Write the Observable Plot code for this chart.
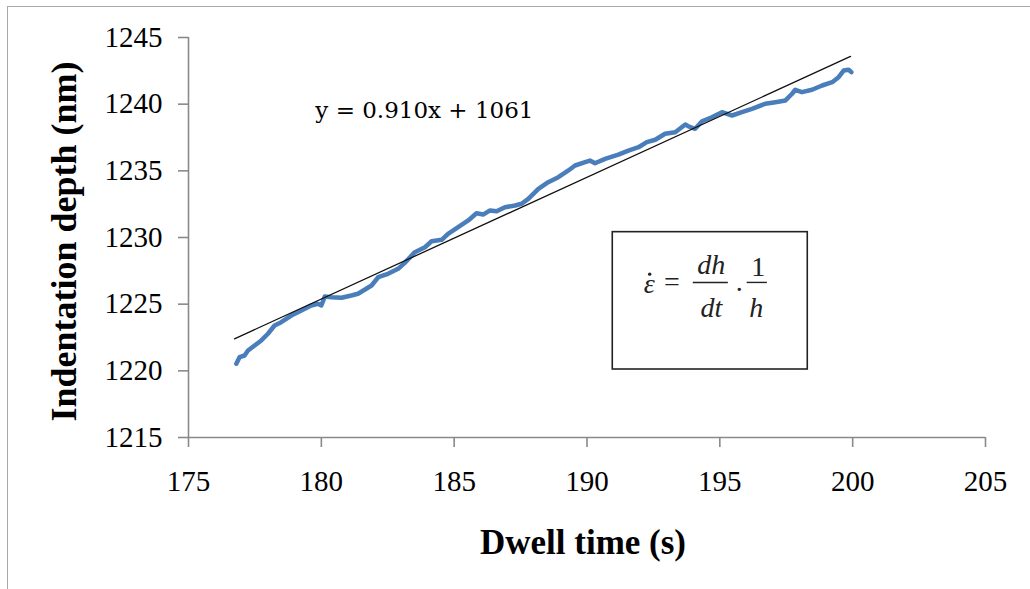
<!DOCTYPE html>
<html>
<head>
<meta charset="utf-8">
<script src="https://cdn.jsdelivr.net/npm/d3@7"></script>
<script src="https://cdn.jsdelivr.net/npm/@observablehq/plot@0.6"></script>
<style>
  html, body { margin: 0; padding: 0; background: #fff; overflow: hidden; }
  #wrap { position: relative; width: 1030px; height: 589px; }
  #border { position: absolute; left: 7px; top: 6px; width: 1100px; height: 700px; border: 1.5px solid #a8a8a8; box-sizing: border-box; pointer-events: none; }
  #chart { position: absolute; left: 0; top: 0; }
</style>
</head>
<body>
<div id="wrap"><div id="border"></div><div id="chart"></div></div>
<script>
// Dwell-time series (s) and indentation depth (nm)
const time = [176.80,176.92,177.11,177.24,177.49,177.74,177.99,178.24,178.49,178.87,179.25,179.62,179.87,180.00,180.13,180.38,180.76,181.13,181.38,181.63,181.89,182.14,182.51,182.89,183.14,183.52,183.90,184.15,184.53,184.77,185.15,185.53,185.84,186.09,186.35,186.60,186.91,187.29,187.54,187.79,188.17,188.54,188.92,189.30,189.55,189.93,190.11,190.30,190.68,191.18,191.56,191.94,192.25,192.57,192.94,193.32,193.70,193.82,194.07,194.33,194.70,195.08,195.46,195.83,196.21,196.71,197.09,197.47,197.72,197.84,198.09,198.47,198.85,199.23,199.47,199.66,199.85,199.95];
const depth = [1220.53,1221.02,1221.15,1221.52,1221.90,1222.28,1222.78,1223.40,1223.65,1224.15,1224.52,1224.90,1225.03,1224.90,1225.57,1225.52,1225.48,1225.65,1225.78,1226.08,1226.40,1227.02,1227.28,1227.65,1228.10,1228.90,1229.27,1229.72,1229.83,1230.28,1230.77,1231.28,1231.82,1231.72,1232.03,1231.97,1232.27,1232.40,1232.53,1232.90,1233.65,1234.15,1234.52,1235.03,1235.40,1235.65,1235.77,1235.57,1235.90,1236.22,1236.52,1236.77,1237.15,1237.33,1237.78,1237.90,1238.48,1238.33,1238.15,1238.72,1239.02,1239.40,1239.15,1239.40,1239.65,1240.03,1240.15,1240.28,1240.78,1241.08,1240.90,1241.08,1241.40,1241.65,1242.02,1242.52,1242.58,1242.40];

// Linear fit line endpoints
const fitTime = [176.73, 199.92];
const fitDepth = [1222.4, 1243.58];

// Tick labels
const xTicks = [175, 180, 185, 190, 195, 200, 205];
const yTicks = [1215, 1220, 1225, 1230, 1235, 1240, 1245];

// Texts
const equationText = "y = 0.910x + 1061";
const xTitle = "Dwell time (s)";
const yTitle = "Indentation depth (nm)";

const series = time.map((t, i) => ({t, d: depth[i]}));
const fit = fitTime.map((t, i) => ({t, d: fitDepth[i]}));

// Annotation anchors (data units)
const eqPos = {t: 183.88, d: 1239.0};
const box = {t1: 190.97, t2: 198.31, d1: 1220.1, d2: 1230.4};
const fracBars = [{t1: 194.0, t2: 195.32, d: 1226.63}, {t1: 196.03, t2: 196.79, d: 1226.63}];
const dotAbove = [{t: 192.36, d: 1227.25}];
const formulaItalic = [
  {t: 192.34, d: 1225.87, s: "\u03B5"},
  {t: 194.68, d: 1227.30, s: "dh"},
  {t: 194.68, d: 1224.07, s: "dt"},
  {t: 196.37, d: 1224.07, s: "h"}
];
const formulaUpright = [
  {t: 193.20, d: 1226.02, s: "="},
  {t: 195.73, d: 1226.02, s: "."},
  {t: 196.45, d: 1227.15, s: "1"}
];

const axisColor = "#8a8a8a";

const chart = Plot.plot({
  width: 1030,
  height: 589,
  marginLeft: 188,
  marginRight: 45,
  marginTop: 37,
  marginBottom: 152,
  style: {fontFamily: "'Liberation Serif', 'Times New Roman', serif", fontSize: "29px", background: "transparent", color: "#000"},
  x: {domain: [175, 205]},
  y: {domain: [1215, 1245]},
  marks: [
    Plot.ruleX([175], {stroke: axisColor, strokeWidth: 1.6}),
    Plot.ruleY([1215], {stroke: axisColor, strokeWidth: 1.6}),
    Plot.axisX({ticks: xTicks, tickSize: 10, tickPadding: 23, stroke: axisColor, strokeWidth: 1.6, fill: "#000", fontSize: 29, label: null, tickFormat: d => String(d)}),
    Plot.axisY({ticks: yTicks, tickSize: 10, tickPadding: 16, stroke: axisColor, strokeWidth: 1.6, fill: "#000", fontSize: 29, label: null, tickFormat: d => String(d)}),
    Plot.line(series, {x: "t", y: "d", stroke: "#4a7ebb", strokeWidth: 4.5, strokeLinejoin: "round", strokeLinecap: "round"}),
    Plot.line(fit, {x: "t", y: "d", stroke: "#111", strokeWidth: 1.3}),
    Plot.text([eqPos], {x: "t", y: "d", text: () => equationText, textAnchor: "middle", lineAnchor: "bottom", fontFamily: "'DejaVu Serif', serif", fontSize: 23, fill: "#000"}),
    Plot.rect([box], {x1: "t1", x2: "t2", y1: "d1", y2: "d2", fill: "white", stroke: "#222", strokeWidth: 1.6}),
    Plot.ruleY(fracBars, {x1: "t1", x2: "t2", y: "d", stroke: "#222", strokeWidth: 1.4}),
    Plot.dot(dotAbove, {x: "t", y: "d", r: 1.7, fill: "#222", stroke: null}),
    Plot.text(formulaItalic, {x: "t", y: "d", text: "s", textAnchor: "middle", lineAnchor: "bottom", fontSize: 28, fontStyle: "italic", fill: "#222"}),
    Plot.text(formulaUpright, {x: "t", y: "d", text: "s", textAnchor: "middle", lineAnchor: "bottom", fontSize: 28, fill: "#222"}),
    Plot.text([xTitle], {frameAnchor: "bottom", text: d => d, textAnchor: "middle", dx: -4, dy: 116, lineAnchor: "bottom", fontSize: 35, fontWeight: "bold", fill: "#000"}),
    Plot.text([yTitle], {frameAnchor: "left", text: d => d, textAnchor: "middle", rotate: -90, dx: -113, dy: 4, lineAnchor: "bottom", fontSize: 36, fontWeight: "bold", fill: "#000"})
  ]
});
document.getElementById("chart").appendChild(chart);
</script>
</body>
</html>
